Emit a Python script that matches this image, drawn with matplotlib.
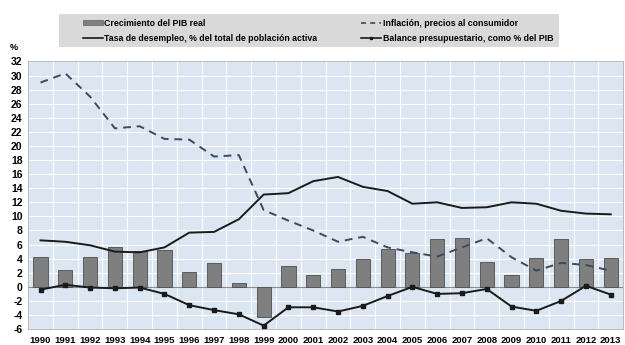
import numpy as np
import matplotlib
matplotlib.use("Agg")
from matplotlib import pyplot as plt
from matplotlib.patches import Rectangle
from matplotlib.lines import Line2D

plt.rcParams['font.family'] = ['Liberation Sans', 'DejaVu Sans']
plt.rcParams['font.weight'] = 'bold'
plt.rcParams['axes.unicode_minus'] = False

"""
Data
"""
years = [str(y) for y in range(1990, 2014)]
pib = [4.2, 2.4, 4.3, 5.7, 5.1, 5.2, 2.1, 3.4, 0.5, -4.3, 2.9, 1.7,
       2.5, 3.9, 5.4, 4.8, 6.75, 7.0, 3.5, 1.7, 4.05, 6.75, 4.0, 4.1]
inflacion = [29.0, 30.3, 27.0, 22.5, 22.8, 21.0, 20.9, 18.5, 18.7, 10.9, 9.4, 8.0,
             6.4, 7.1, 5.6, 4.9, 4.3, 5.6, 6.9, 4.2, 2.3, 3.4, 3.1, 2.3]
desempleo = [6.6, 6.4, 5.9, 5.0, 4.9, 5.6, 7.7, 7.8, 9.6, 13.1, 13.3, 15.0,
             15.6, 14.2, 13.6, 11.8, 12.0, 11.2, 11.3, 12.0, 11.8, 10.8, 10.4, 10.3]
balance = [-0.4, 0.3, -0.1, -0.2, -0.1, -1.0, -2.6, -3.3, -3.9, -5.5, -2.9, -2.9,
           -3.5, -2.7, -1.3, 0.0, -1.0, -0.9, -0.3, -2.8, -3.4, -2.0, 0.15, -1.1]

"""
Plotting
"""
fig = plt.figure(figsize=(6.25, 3.45), dpi=100)
ax = fig.add_axes([0.045, 0.046, 0.952, 0.776])
x = np.arange(len(years))

ax.set_facecolor('#dce6f2')
ax.bar(x, pib, width=0.57, color='#7f7f7f', edgecolor='#4d4d4d', linewidth=0.6, zorder=3)
ax.axhline(0, color='#8c8c8c', lw=0.8, zorder=2)
ax.plot(x, desempleo, '-', color='#1a1a1a', lw=1.4, zorder=4)
ax.plot(x, inflacion, '--', color='#3b4a5c', lw=1.4, dashes=(4, 3), zorder=4)
ax.plot(x, balance, '-', color='#1a1a1a', lw=1.4, marker='s', ms=2.2, zorder=4)

ax.set_xlim(-0.5, len(years) - 0.5)
ax.set_ylim(-6, 32)
ax.set_yticks(np.arange(-6, 33, 2))
ax.set_xticks(x)
ax.set_xticklabels(years)
ax.set_xticks(np.arange(-0.5, len(years), 1), minor=True)
ax.grid(True, which='major', axis='y', color='white', lw=0.8, zorder=1)
ax.grid(True, which='minor', axis='x', color='white', lw=0.8, zorder=1)
ax.tick_params(which='both', length=0)
ax.tick_params(axis='x', labelsize=6.8, pad=5)
ax.tick_params(axis='y', labelsize=7.5, pad=4)
for s in ax.spines.values():
    s.set_color('#b0b0b0')
    s.set_linewidth(0.6)

fig.text(0.016, 0.855, '%', fontsize=6.5, fontweight='bold')

# legend box
fig.patches.append(Rectangle((0.0944, 0.864), 0.8, 0.096, transform=fig.transFigure,
                             facecolor='#d9d9d9', edgecolor='none', zorder=0))
handles = [Rectangle((0, 0), 1, 1, facecolor='#7f7f7f', edgecolor='#6e6e6e', lw=0.6),
           Line2D([], [], color='#1a1a1a', lw=1.2),
           Line2D([], [], color='#3b4a5c', lw=1.2, ls='--', dashes=(3, 2.5)),
           Line2D([], [], color='#1a1a1a', lw=1.2, marker='s', ms=2)]
labels = ['Crecimiento del PIB real',
          'Tasa de desempleo, % del total de población activa',
          'Inflación, precios al consumidor',
          'Balance presupuestario, como % del PIB']
fig.legend(handles, labels, ncol=2, frameon=False, fontsize=6.3,
           loc='upper left', bbox_to_anchor=(0.1328, 0.946),
           handlelength=2.3, handleheight=0.5, handletextpad=0.15,
           columnspacing=5.0, labelspacing=0.7, borderpad=0, borderaxespad=0)

fig.savefig('out.png', dpi=100)
